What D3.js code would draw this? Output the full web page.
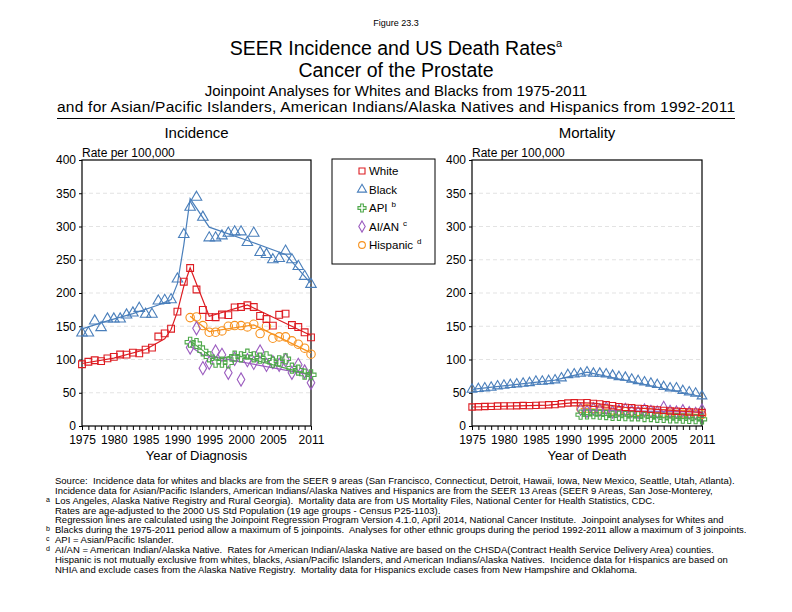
<!DOCTYPE html>
<html>
<head>
<meta charset="utf-8">
<script src="https://cdn.jsdelivr.net/npm/d3@7"></script>
<style>
  body { margin: 0; background: #fff; }
  svg { font-family: Arial, "Liberation Sans", sans-serif; }
</style>
</head>
<body>
<svg id="chart" width="792" height="612"></svg>
<script>
// Years on the x axis
const yearsAll = [1975, 1976, 1977, 1978, 1979, 1980, 1981, 1982, 1983, 1984, 1985, 1986, 1987,
    1988, 1989, 1990, 1991, 1992, 1993, 1994, 1995, 1996, 1997, 1998, 1999, 2000, 2001, 2002,
    2003, 2004, 2005, 2006, 2007, 2008, 2009, 2010, 2011];
const yearsRecent = yearsAll.slice(17); // 1992-2011
const xTickLabels = [1975, 1980, 1985, 1990, 1995, 2000, 2005, 2011];
const yTicks = [0, 50, 100, 150, 200, 250, 300, 350, 400];

// Incidence (rate per 100,000)
const whiteInc = [92.9, 96.6, 98.9, 97.5, 101.7, 103.9, 107.5, 107.4, 110.4, 109.3, 114.9, 117.9, 134.6,
    139.2, 146.3, 172.0, 217.0, 237.6, 205.3, 174.5, 163.7, 163.6, 167.6, 166.7, 178.3, 178.9, 181.6,
    178.9, 165.5, 160.9, 151.0, 167.2, 169.0, 151.8, 148.8, 140.9, 133.3];
const blackInc = [140, 140, 158, 148, 161, 161, 161, 167, 170, 177, 168, 168, 188,
    189, 190, 221, 288, 329, 344, 314, 283, 283, 286, 290, 292, 292, 276,
    290, 261, 258, 250, 252, 263, 250, 240, 225, 213];
const apiInc = [126, 124, 113, 104, 96, 96, 95, 105, 104, 108, 104, 102, 104, 96, 98, 101, 87, 84, 78, 77];
const aianInc = [118, 147, 87, 95, 112, 107, 80, 101, 70, 99, 95, 112, 92, 96, 92, 99, 80, 92, 82, 65];
const hispInc = [163, 164, 151, 141, 141, 143, 150, 151, 151, 149, 153, 139, 150, 132, 134, 134, 128, 123, 117, 108];

// Incidence joinpoint fits: [year, rate]
const whiteIncFit = [[1975, 94], [1980, 102], [1985, 115], [1988, 131], [1989, 145], [1990, 172], [1991, 210], [1992, 238], [1995, 165], [2001, 182], [2011, 136]];
const blackIncFit = [[1975, 146], [1979, 158], [1983, 169], [1987, 182], [1989, 190], [1990, 214], [1991, 272], [1992, 342], [1995, 299], [2001, 279], [2007, 258], [2011, 214]];
const apiIncFit = [[1992, 128], [1996, 99], [1999, 107], [2011, 77]];
const aianIncFit = [[1992, 120], [1994, 107], [2011, 77]];
const hispIncFit = [[1992, 165], [1995, 142], [2002, 152], [2011, 110]];

// Mortality (rate per 100,000)
const whiteMort = [28.5, 29.0, 29.3, 29.5, 30.0, 30.3, 30.2, 30.5, 30.8, 30.6, 31.0, 31.4, 32.0,
    32.2, 33.4, 34.6, 35.0, 34.8, 35.1, 34.0, 33.2, 32.0, 30.6, 29.2, 28.0, 27.5, 26.6,
    26.2, 25.0, 24.2, 23.6, 22.5, 22.2, 21.6, 21.0, 20.8, 20.3];
const blackMort = [55, 56, 57, 58, 60, 61, 62, 63, 64, 65, 67, 67, 68,
    69, 72, 77, 78, 79, 81, 79, 79, 78, 76, 74, 73, 70, 68,
    66, 64, 62, 59, 57, 57, 53, 51, 49, 45];
const apiMort = [17.0, 17.5, 17.8, 17.2, 16.5, 15.3, 15.4, 14.8, 14.6, 14.7, 13.6, 13.5, 12.4, 12.3, 11.5, 11.6, 11.0, 10.8, 10.4, 10.0];
const aianMort = [25, 22, 26, 24, 27, 21, 23, 25, 22, 20, 24, 22, 21, 28, 22, 21, 23, 20, 19, 24];
const hispMort = [26, 26.5, 26, 25.5, 24.5, 23.5, 22.5, 22, 22, 21.5, 21, 20.5, 19.5, 19, 18.5, 18, 18, 17.5, 17.5, 17];

// Mortality joinpoint fits: [year, rate]
const whiteMortFit = [[1975, 28.6], [1987, 31.3], [1991, 35.0], [1994, 34.5], [1999, 28.2], [2011, 20.3]];
const blackMortFit = [[1975, 55], [1988, 69], [1993, 81], [2011, 44]];
const apiMortFit = [[1992, 17.5], [2011, 10]];
const aianMortFit = [[1992, 24], [2011, 21]];
const hispMortFit = [[1992, 26.5], [2011, 17]];

const series = [
    { name: 'White', sup: '', color: '#dd1c22', symbol: d3.symbolSquare, size: 46,
      years: yearsAll, inc: whiteInc, incFit: whiteIncFit, mort: whiteMort, mortFit: whiteMortFit },
    { name: 'Black', sup: '', color: '#4a7fbb', symbol: d3.symbolTriangle, size: 48,
      years: yearsAll, inc: blackInc, incFit: blackIncFit, mort: blackMort, mortFit: blackMortFit },
    { name: 'API', sup: 'b', color: '#4ea84a', symbol: d3.symbolCross, size: 56,
      years: yearsRecent, inc: apiInc, incFit: apiIncFit, mort: apiMort, mortFit: apiMortFit },
    { name: 'AI/AN', sup: 'c', color: '#9b5cbf', symbol: d3.symbolDiamond, size: 50,
      years: yearsRecent, inc: aianInc, incFit: aianIncFit, mort: aianMort, mortFit: aianMortFit },
    { name: 'Hispanic', sup: 'd', color: '#f7921e', symbol: d3.symbolCircle, size: 56,
      years: yearsRecent, inc: hispInc, incFit: hispIncFit, mort: hispMort, mortFit: hispMortFit }
];

const svg = d3.select('#chart');

// Headings
const cx = 396;
svg.append('text').attr('x', cx).attr('y', 26).attr('text-anchor', 'middle')
    .style('font-size', '9px').text('Figure 23.3');

const t1 = svg.append('text').attr('x', cx).attr('y', 55).attr('text-anchor', 'middle')
    .style('font-size', '19.5px');
t1.append('tspan').text('SEER Incidence and US Death Rates');
t1.append('tspan').attr('dy', -8).style('font-size', '11px').text('a');

svg.append('text').attr('x', cx).attr('y', 77).attr('text-anchor', 'middle')
    .style('font-size', '19.5px').text('Cancer of the Prostate');
svg.append('text').attr('x', cx).attr('y', 96).attr('text-anchor', 'middle')
    .style('font-size', '15px').text('Joinpoint Analyses for Whites and Blacks from 1975-2011');
svg.append('text').attr('x', 57).attr('y', 112)
    .style('font-size', '15.5px').attr('textLength', 678).attr('lengthAdjust', 'spacing')
    .text('and for Asian/Pacific Islanders, American Indians/Alaska Natives and Hispanics from 1992-2011');
svg.append('line').attr('x1', 57).attr('x2', 735).attr('y1', 118.5).attr('y2', 118.5)
    .attr('stroke', '#000').attr('stroke-width', 1.2);

function drawPanel(left, right, title, xTitle, valueKey, fitKey, markScale) {
    const top = 160, bottom = 426;
    const x = d3.scaleLinear().domain([1975, 2011]).range([left, right]);
    const y = d3.scaleLinear().domain([0, 400]).range([bottom, top]);
    const g = svg.append('g');

    g.append('text').attr('x', (left + right) / 2).attr('y', 138).attr('text-anchor', 'middle')
        .style('font-size', '15px').text(title);
    g.append('text').attr('x', left).attr('y', 157).style('font-size', '12px').text('Rate per 100,000');

    // grid
    g.selectAll('line.grid').data(yTicks.filter(v => v > 0 && v < 400)).join('line')
        .attr('class', 'grid')
        .attr('x1', left).attr('x2', right)
        .attr('y1', d => y(d)).attr('y2', d => y(d))
        .attr('stroke', '#dcdcdc').attr('stroke-dasharray', '4,3').attr('stroke-width', 0.8);

    // y axis
    const yAxis = d3.axisLeft(y).tickValues(yTicks).tickSize(3).tickPadding(3);
    const ya = g.append('g').attr('transform', `translate(${left},0)`).call(yAxis);
    ya.select('.domain').remove();
    ya.selectAll('text').style('font-size', '12px').attr('fill', '#000');

    // x axis: minor ticks every year, labels on chosen years
    const xAxis = d3.axisBottom(x).tickValues(yearsAll).tickSize(4).tickPadding(5.5)
        .tickFormat(d => xTickLabels.includes(d) ? d : '');
    const xa = g.append('g').attr('transform', `translate(0,${bottom})`).call(xAxis);
    xa.select('.domain').remove();
    xa.selectAll('text').style('font-size', '12px').attr('fill', '#000');

    g.append('text').attr('x', (left + right) / 2).attr('y', 460).attr('text-anchor', 'middle')
        .style('font-size', '13px').text(xTitle);

    // frame
    g.append('rect').attr('x', left).attr('y', top).attr('width', right - left).attr('height', bottom - top)
        .attr('fill', 'none').attr('stroke', '#000').attr('stroke-width', 1.2);

    const line = d3.line().x(d => x(d[0])).y(d => y(d[1]));
    const sym = d3.symbol();

    series.slice().reverse().forEach(s => {
        const pts = s.years.map((yr, i) => [yr, s[valueKey][i]]);
        g.append('g').selectAll('path').data(pts).join('path')
            .attr('transform', d => `translate(${x(d[0])},${y(d[1])})`)
            .attr('d', sym.type(s.symbol).size(s.size * markScale)())
            .attr('fill', 'none').attr('stroke', s.color).attr('stroke-width', 1.1);
        g.append('path').datum(s[fitKey]).attr('d', line)
            .attr('fill', 'none').attr('stroke', s.color).attr('stroke-width', 1.2);
    });
}

drawPanel(82, 311, 'Incidence', 'Year of Diagnosis', 'inc', 'incFit', 1.0);
drawPanel(472, 702, 'Mortality', 'Year of Death', 'mort', 'mortFit', 0.85);

// Legend
const lg = svg.append('g');
lg.append('rect').attr('x', 332).attr('y', 159).attr('width', 103).attr('height', 105)
    .attr('fill', '#fff').attr('stroke', '#000').attr('stroke-width', 1);
series.forEach((s, i) => {
    const yy = 175 + i * 18.5;
    lg.append('path').attr('transform', `translate(362,${yy - 4})`)
        .attr('d', d3.symbol().type(s.symbol).size(36)())
        .attr('fill', 'none').attr('stroke', s.color).attr('stroke-width', 1.1);
    const tx = lg.append('text').attr('x', 369).attr('y', yy).style('font-size', '11.5px');
    tx.append('tspan').text(s.name);
    if (s.sup) tx.append('tspan').attr('dx', 4).attr('dy', -5).style('font-size', '8px').text(s.sup);
});

// Footnotes
const notes = [
    ['', 'Source:  Incidence data for whites and blacks are from the SEER 9 areas (San Francisco, Connecticut, Detroit, Hawaii, Iowa, New Mexico, Seattle, Utah, Atlanta).'],
    ['', 'Incidence data for Asian/Pacific Islanders, American Indians/Alaska Natives and Hispanics are from the SEER 13 Areas (SEER 9 Areas, San Jose-Monterey,'],
    ['a', 'Los Angeles, Alaska Native Registry and Rural Georgia).  Mortality data are from US Mortality Files, National Center for Health Statistics, CDC.'],
    ['', 'Rates are age-adjusted to the 2000 US Std Population (19 age groups - Census P25-1103).'],
    ['', 'Regression lines are calculated using the Joinpoint Regression Program Version 4.1.0, April 2014, National Cancer Institute.  Joinpoint analyses for Whites and'],
    ['b', 'Blacks during the 1975-2011 period allow a maximum of 5 joinpoints.  Analyses for other ethnic groups during the period 1992-2011 allow a maximum of 3 joinpoints.'],
    ['c', 'API = Asian/Pacific Islander.'],
    ['d', 'AI/AN = American Indian/Alaska Native.  Rates for American Indian/Alaska Native are based on the CHSDA(Contract Health Service Delivery Area) counties.'],
    ['', 'Hispanic is not mutually exclusive from whites, blacks, Asian/Pacific Islanders, and American Indians/Alaska Natives.  Incidence data for Hispanics are based on'],
    ['', 'NHIA and exclude cases from the Alaska Native Registry.  Mortality data for Hispanics exclude cases from New Hampshire and Oklahoma.']
];
const fn = svg.append('g').style('font-size', '9.5px');
notes.forEach((n, i) => {
    const yy = 484 + i * 9.85;
    if (n[0]) fn.append('text').attr('x', 46).attr('y', yy - 2).style('font-size', '7px').text(n[0]);
    fn.append('text').attr('x', 55).attr('y', yy).style('white-space', 'pre').text(n[1]);
});
</script>
</body>
</html>
